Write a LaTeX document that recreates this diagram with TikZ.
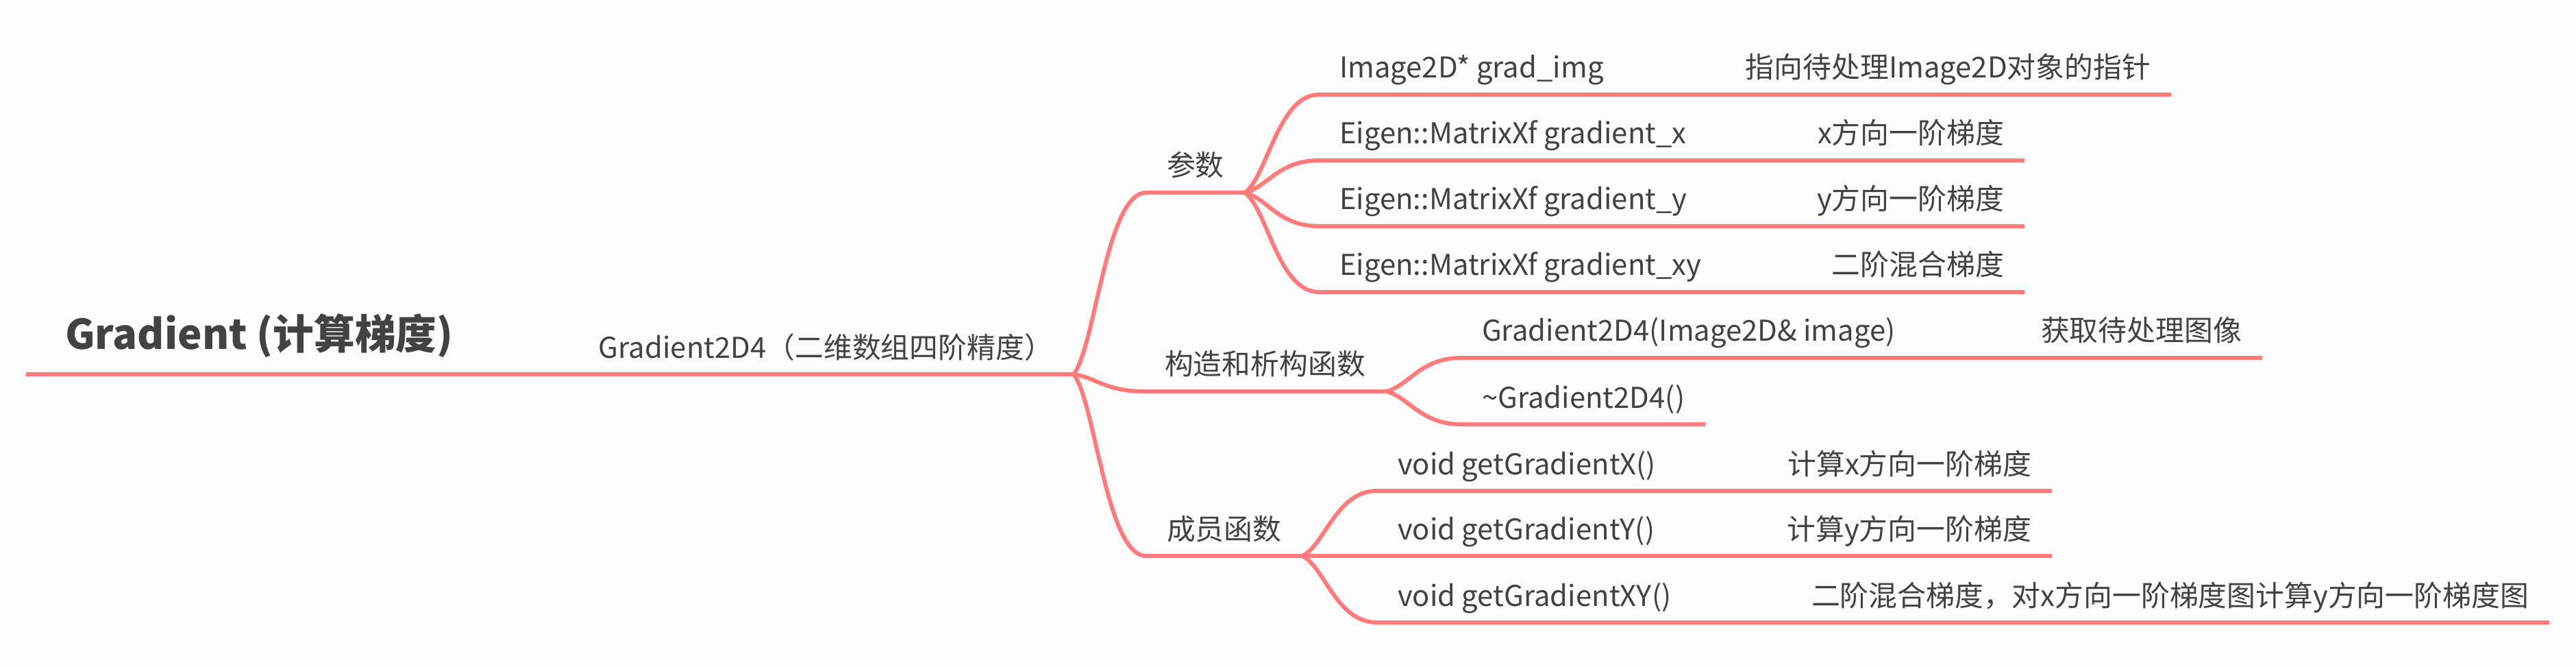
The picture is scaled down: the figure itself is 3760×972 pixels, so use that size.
\documentclass[tikz,border=0pt]{standalone}
\usepackage{fontspec}
\setmainfont{Noto Sans CJK SC}
\usetikzlibrary{calc}
\definecolor{link}{HTML}{FF7B7B}
\definecolor{ink}{HTML}{424242}
\definecolor{paper}{HTML}{FCFCFC}

\begin{document}
\begin{tikzpicture}[x=0.01cm,y=-0.01cm,
  topic/.style={font=\fontsize{11.9pt}{14pt}\selectfont,text=ink,text depth=0pt,
    inner xsep=0.3cm,inner ysep=0.24cm,outer sep=0pt},
  central/.style={topic,font=\fontsize{17pt}{20pt}\selectfont\bfseries,
    inner xsep=0.57cm,inner ysep=0.36cm},
  wire/.style={draw=link,line width=1.7pt},
  curve/.style={to path={let \p1=(\tikztostart),\p2=(\tikztotarget) in
    .. controls ({\x1+0.3*(\x2-\x1)},{\y1+0.15*(\y2-\y1)})
    and ({\x1+0.45*(\x2-\x1)},\y2) .. (\tikztotarget)}}]
  \fill[paper] (0,0) rectangle (3760,972);

  % Root
  \node[central,anchor=south west] (main) at (38,546) {Gradient (计算梯度)};
  \node[topic,anchor=south east] (g2d) at (1567,546) {Gradient2D4（二维数组四阶精度）};
  \draw[wire,line width=1.9pt] (main.south west) -- (g2d.south east);

  % Second level
  \node[topic,anchor=south west] (par) at (1673,281) {参数};
  \node[topic,anchor=south west] (ctor) at (1670,571) {构造和析构函数};
  \node[topic,anchor=south west] (memb) at (1673,811) {成员函数};
  \foreach \t in {par,ctor,memb}
    \draw[wire] (g2d.south east) to[curve] (\t.south west) -- (\t.south east);

  % Parameters
  \node[topic,anchor=south west] (img) at (1925,138) {Image2D* grad\_img};
  \node[topic,anchor=south east] (imgnote) at (3169,138) {指向待处理Image2D对象的指针};
  \node[topic,anchor=south west] (gx) at (1925,234) {Eigen::MatrixXf gradient\_x};
  \node[topic,anchor=south east] (gxnote) at (2955,234) {x方向一阶梯度};
  \node[topic,anchor=south west] (gy) at (1925,330) {Eigen::MatrixXf gradient\_y};
  \node[topic,anchor=south east] (gynote) at (2955,330) {y方向一阶梯度};
  \node[topic,anchor=south west] (gxy) at (1925,426) {Eigen::MatrixXf gradient\_xy};
  \node[topic,anchor=south east] (gxynote) at (2955,426) {二阶混合梯度};
  \foreach \t in {img,gx,gy,gxy}
    \draw[wire] (par.south east) to[curve] (\t.south west) -- (\t note.south east);

  % Constructor and destructor
  \node[topic,anchor=south west] (make) at (2133,522) {Gradient2D4(Image2D\& image)};
  \node[topic,anchor=south east] (makenote) at (3302,522) {获取待处理图像};
  \node[topic,anchor=south west] (kill) at (2133,619) {\textasciitilde Gradient2D4()};
  \draw[wire] (ctor.south east) to[curve] (make.south west) -- (makenote.south east);
  \draw[wire] (ctor.south east) to[curve] (kill.south west) -- (kill.south east);

  % Member functions
  \node[topic,anchor=south west] (getx) at (2010,716) {void getGradientX()};
  \node[topic,anchor=south east] (getxnote) at (2995,716) {计算x方向一阶梯度};
  \node[topic,anchor=south west] (gety) at (2010,811) {void getGradientY()};
  \node[topic,anchor=south east] (getynote) at (2995,811) {计算y方向一阶梯度};
  \node[topic,anchor=south west] (getxy) at (2010,908) {void getGradientXY()};
  \node[topic,anchor=south east] (getxynote) at (3721,908) {二阶混合梯度，对x方向一阶梯度图计算y方向一阶梯度图};
  \foreach \t in {getx,gety,getxy}
    \draw[wire] (memb.south east) to[curve] (\t.south west) -- (\t note.south east);
\end{tikzpicture}
\end{document}
